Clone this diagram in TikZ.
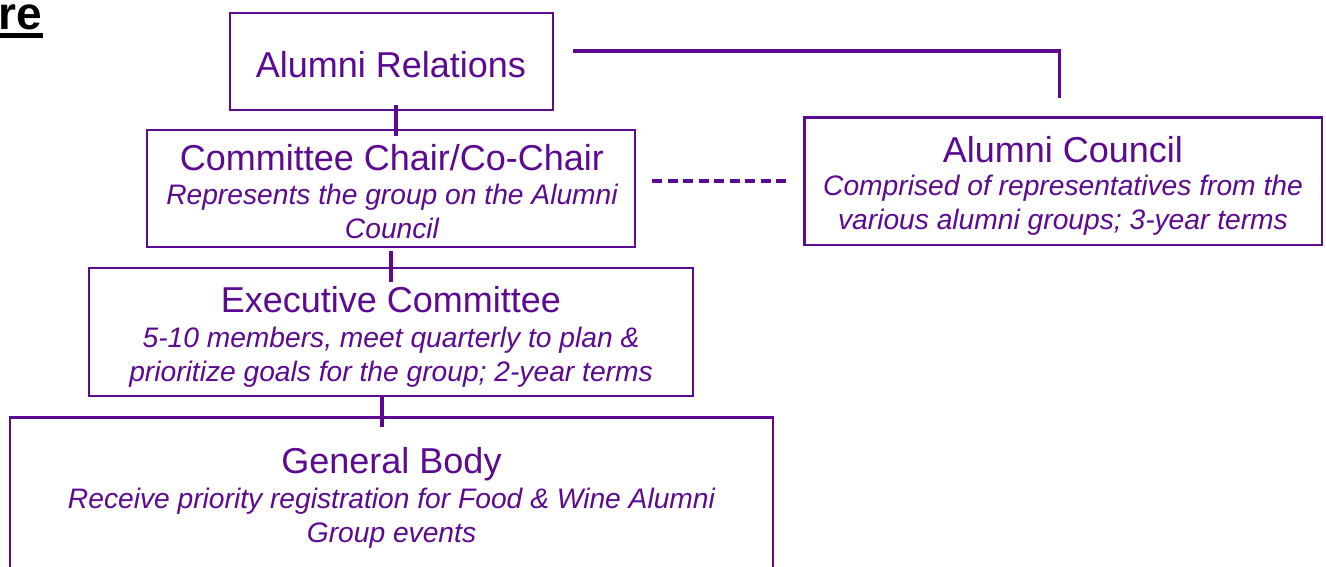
\documentclass[tikz,border=0pt]{standalone}
\usepackage{fontspec}
\setmainfont{Liberation Sans}
\definecolor{purp}{RGB}{92,10,145}
\tikzset{
  box/.style={draw=purp, line width=2.5pt, rectangle, inner sep=0pt, outer sep=0pt},
  conn/.style={draw=purp, line width=3.8pt},
  dconn/.style={draw=purp, line width=3.5pt, dash pattern=on 10pt off 5.5pt},
  ttl/.style={anchor=base, inner sep=0pt, text=purp, font=\fontsize{36}{43}\selectfont},
  dsc/.style={anchor=base, inner sep=0pt, text=purp, font=\fontsize{28.2}{34}\selectfont\itshape},
}
\begin{document}
\begin{tikzpicture}[x=1pt, y=-1pt]
\clip (0,0) rectangle (1326,566);
\fill[white] (0,0) rectangle (1326,566);

% heading fragment
\node[anchor=base west, inner sep=0pt, font=\fontsize{46}{46}\selectfont\bfseries] (re) at (-2,29) {re};
\draw[line width=4.2pt] ([shift={(2,6.5)}]re.base west) -- ([shift={(1,6.5)}]re.base east);

% boxes
\node[box, minimum width=323pt, minimum height=97pt] (rel) at (391.5,61.5) {};
\node[box, minimum width=488pt, minimum height=117pt] (chair) at (391,188.5) {};
\node[box, minimum width=517.5pt, minimum height=127.5pt] (council) at (1063.25,181.25) {};
\node[box, minimum width=604pt, minimum height=128pt] (exec) at (391,332) {};
\node[box, minimum width=763pt, minimum height=182.5pt] (gb) at (391.5,508.75) {};

% texts
\node[ttl] (relT) at (391,77) {Alumni Relations};

\node[ttl] (chairT) at (392,170) {Committee Chair/Co-Chair};
\node[dsc] (chairD1) at (392,204) {Represents the group on the Alumni};
\node[dsc] (chairD2) at (392,238) {Council};

\node[ttl] (councilT) at (1063,162) {Alumni Council};
\node[dsc] (councilD1) at (1063,195.5) {Comprised of representatives from the};
\node[dsc] (councilD2) at (1063,229.5) {various alumni groups; 3-year terms};

\node[ttl] (execT) at (391,312.5) {Executive Committee};
\node[dsc] (execD1) at (391,347) {5-10 members, meet quarterly to plan \&};
\node[dsc] (execD2) at (391,381) {prioritize goals for the group; 2-year terms};

\node[ttl] (gbT) at (391.5,473) {General Body};
\node[dsc] (gbD1) at (391.5,508) {Receive priority registration for Food \& Wine Alumni};
\node[dsc] (gbD2) at (391.5,542) {Group events};

% connectors
\draw[conn] ([shift={(4.2,-5)}]rel.south) -- ([shift={(4.7,5.7)}]chair.north);
\draw[conn] ([shift={(0.3,4)}]chair.south) -- ([shift={(0.3,13.7)}]exec.north);
\draw[conn] ([shift={(-8.7,0)}]exec.south) -- ([shift={(-9.2,9.2)}]gb.north);

\coordinate (relout) at ([shift={(20,-10.5)}]rel.east);
\coordinate (councilin) at ([shift={(-3.75,-19.5)}]council.north);
\draw[conn] (relout) -| (councilin);

\coordinate (chairout) at ([shift={(17,-7.5)}]chair.east);
\coordinate (councildash) at ([shift={(-18.5,0)}]council.west |- chairout);
\draw[dconn] (chairout) -- (councildash);
\end{tikzpicture}
\end{document}
